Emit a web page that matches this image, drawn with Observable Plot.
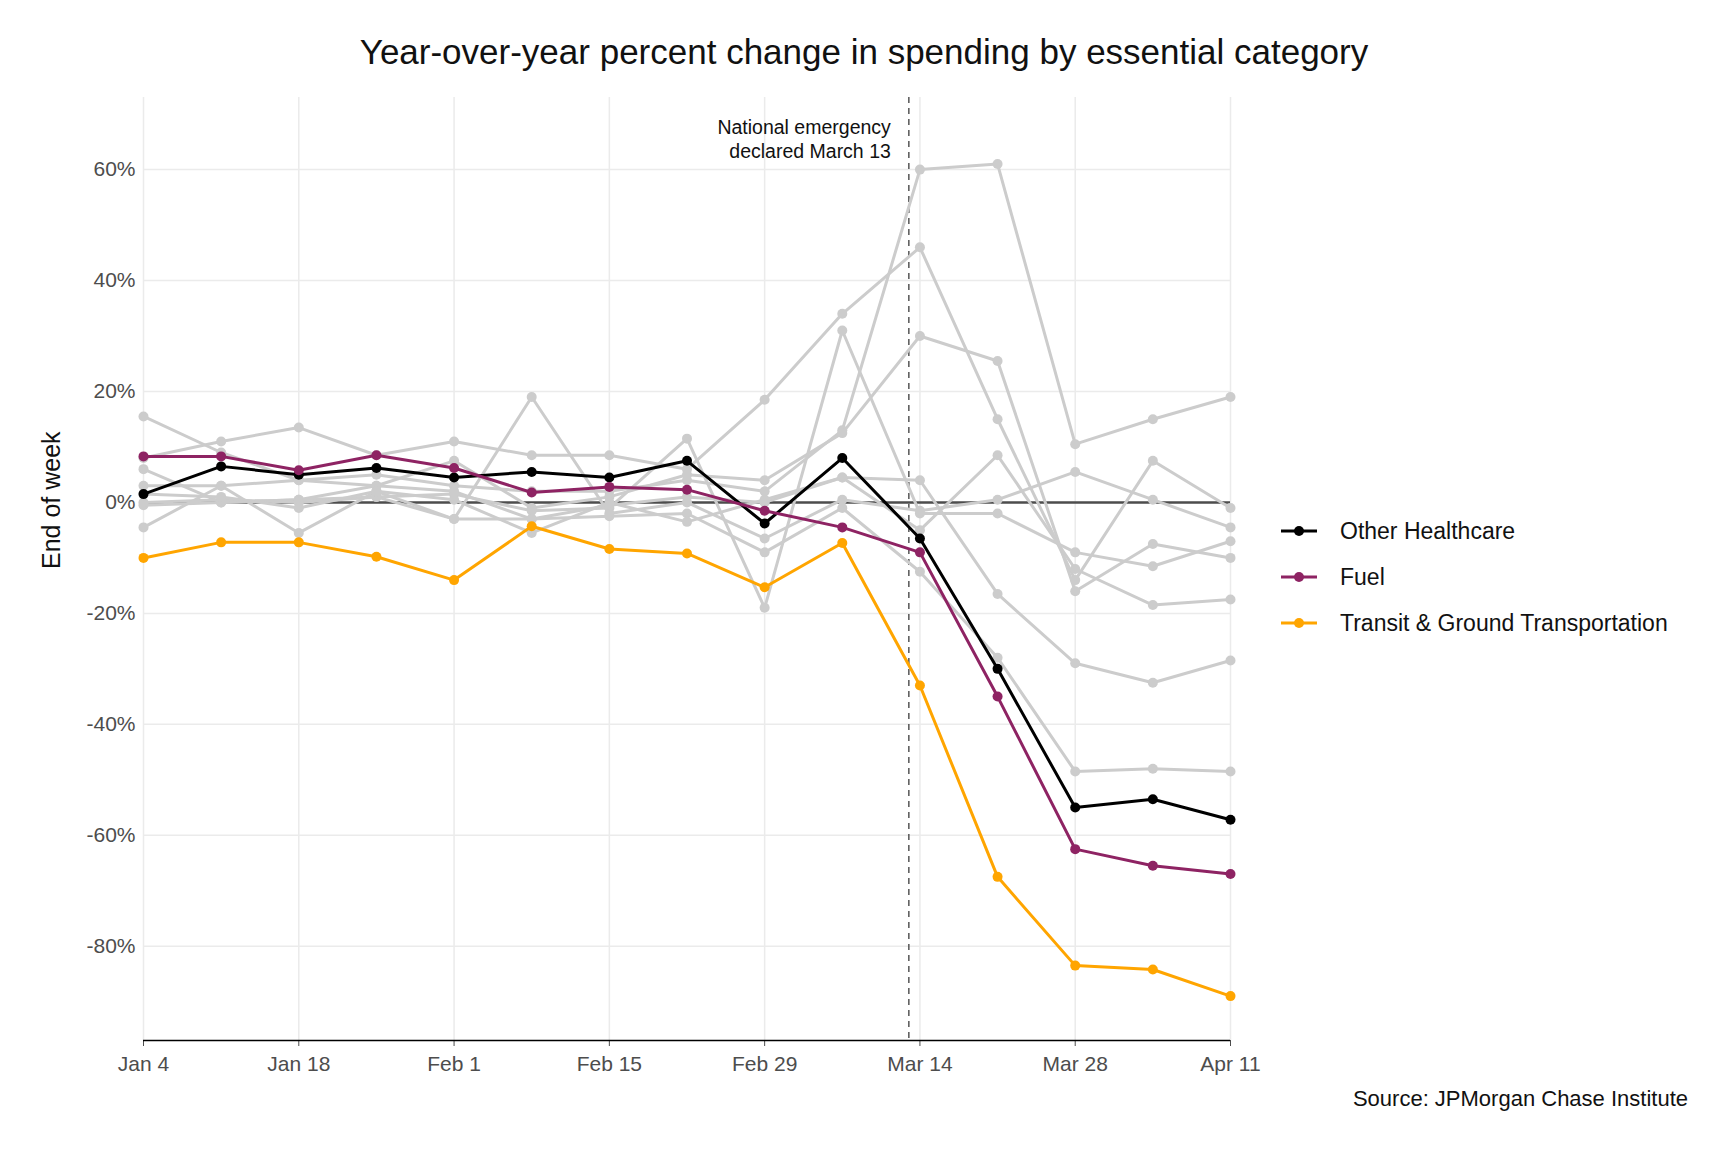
<!DOCTYPE html>
<html>
<head>
<meta charset="utf-8">
<script src="https://cdn.jsdelivr.net/npm/d3@7"></script>
<script src="https://cdn.jsdelivr.net/npm/@observablehq/plot@0.6"></script>
<style>
  body { margin: 0; background: #fff; font-family: "Liberation Sans", Arial, sans-serif; }
  #wrap { position: relative; width: 1728px; height: 1152px; }
  #title { position: absolute; top: 32px; left: 0; width: 1728px; text-align: center; font-size: 35px; color: #111; }
  #chart { position: absolute; top: 80px; left: 0; }
  #legend { position: absolute; left: 1280px; top: 508px; font-size: 23px; color: #111; }
  .item { display: flex; align-items: center; height: 46px; }
  .item svg { margin-right: 22px; }
  #source { position: absolute; right: 40px; top: 1086px; font-size: 22px; color: #111; }
</style>
</head>
<body>
<div id="wrap">
  <div id="title">Year-over-year percent change in spending by essential category</div>
  <div id="chart"></div>
  <div id="legend"></div>
  <div id="source">Source: JPMorgan Chase Institute</div>
</div>
<script>
const weeks = ["2020-01-04","2020-01-11","2020-01-18","2020-01-25","2020-02-01","2020-02-08","2020-02-15",
  "2020-02-22","2020-02-29","2020-03-07","2020-03-14","2020-03-21","2020-03-28","2020-04-04","2020-04-11"];

const otherHealthcare = [1.5, 6.5, 5, 6.2, 4.5, 5.5, 4.5, 7.5, -3.8, 8, -6.5, -30, -55, -53.5, -57.2];
const fuel = [8.3, 8.3, 5.8, 8.5, 6.2, 1.8, 2.8, 2.3, -1.5, -4.5, -9, -35, -62.5, -65.5, -67];
const transit = [-10, -7.2, -7.2, -9.8, -14, -4.3, -8.4, -9.2, -15.3, -7.3, -33, -67.5, -83.5, -84.2, -89];

// other essential categories, drawn in grey
const grey1 = [3, 3, 4, 5, 3, 2, 2, 4, 2, 13, 60, 61, 10.5, 15, 19];
const grey2 = [8, 11, 13.5, 8.5, 11, 8.5, 8.5, 6, 18.5, 34, 46, 15, -14, 7.5, -1];
const grey3 = [6, 0, 0.5, 3, 7.5, -1, 1, 5, 4, 12.5, 30, 25.5, -16, -7.5, -10];
const grey4 = [-0.5, 0, 0.5, 1, 1.5, -1.5, -1, 11.5, -19, 31, -2, -2, -9, -11.5, -7];
const grey5 = [0, 0.5, 0, 1, -3, 19, -2, 0, -6.5, 0.5, -1.5, 0.5, 5.5, 0.5, -4.5];
const grey6 = [15.5, 9, 4, 3, 2, -3, -0.5, 1, 0, 4.5, 4, -16.5, -29, -32.5, -28.5];
const grey7 = [1.5, 1, -1, 2, -3, -3, -2.5, -2, -9, -1, -12.5, -28, -48.5, -48, -48.5];
const grey8 = [-4.5, 3, -5.5, 2, 0.5, -5.5, 0, -3.5, 0.5, 4.5, -5, 8.5, -12, -18.5, -17.5];

const greys = [grey1, grey2, grey3, grey4, grey5, grey6, grey7, grey8];
const highlighted = [
  {name: "Other Healthcare", values: otherHealthcare, color: "#000000"},
  {name: "Fuel", values: fuel, color: "#8e2363"},
  {name: "Transit & Ground Transportation", values: transit, color: "#ffa500"}
];

const parse = d3.utcParse("%Y-%m-%d");
const dates = weeks.map(parse);
const greyRows = greys.flatMap((vals, k) => vals.map((v, i) => ({series: k, date: dates[i], value: v})));
const mainRows = highlighted.flatMap(s => s.values.map((v, i) => ({series: s.name, date: dates[i], value: v})));
const tickDates = dates.filter((d, i) => i % 2 === 0);
const emergency = parse("2020-03-13");
const colorDomain = highlighted.map(s => s.name);
const colorRange = highlighted.map(s => s.color);

const chart = Plot.plot({
  width: 1300,
  height: 1000,
  marginLeft: 143,
  marginRight: 70,
  marginTop: 17,
  marginBottom: 40,
  style: {fontFamily: "Liberation Sans, Arial, sans-serif", fontSize: "21px", color: "#4d4d4d"},
  x: {type: "utc", domain: [dates[0], dates[dates.length - 1]]},
  y: {domain: [-97, 73]},
  color: {domain: colorDomain, range: colorRange},
  marks: [
    Plot.gridX(tickDates, {stroke: "#ebebeb", strokeOpacity: 1, strokeWidth: 1.5}),
    Plot.gridY([-80, -60, -40, -20, 0, 20, 40, 60], {stroke: "#ebebeb", strokeOpacity: 1, strokeWidth: 1.5}),
    Plot.axisY([-80, -60, -40, -20, 0, 20, 40, 60], {tickFormat: d => d + "%", tickSize: 0, tickPadding: 8,
      label: null, fontSize: 21}),
    Plot.text(["End of week"], {frameAnchor: "left", dx: -92, rotate: -90, fontSize: 25, fill: "#111"}),
    Plot.axisX(tickDates, {tickFormat: d3.utcFormat("%b %-d"), tickSize: 6, tickPadding: 10, label: null, fontSize: 21}),
    Plot.ruleY([-97], {stroke: "#000", strokeWidth: 1.5}),
    Plot.ruleY([0], {stroke: "#4d4d4d", strokeWidth: 2.5}),
    Plot.ruleX([emergency], {stroke: "#555", strokeDasharray: "6,5", strokeWidth: 1.5}),
    Plot.text(["National emergency\ndeclared March 13"], {x: emergency, y: 73, dx: -18, dy: 20, textAnchor: "end",
      lineAnchor: "top", fill: "#111", fontSize: 19.5, lineHeight: 1.2}),
    Plot.line(greyRows, {x: "date", y: "value", z: "series", stroke: "#cccccc", strokeWidth: 3}),
    Plot.dot(greyRows, {x: "date", y: "value", fill: "#cccccc", r: 5}),
    Plot.line(mainRows, {x: "date", y: "value", z: "series", stroke: "series", strokeWidth: 3}),
    Plot.dot(mainRows, {x: "date", y: "value", fill: "series", r: 5})
  ]
});
document.getElementById("chart").append(chart);

const legend = d3.select("#legend");
highlighted.forEach(s => {
  const item = legend.append("div").attr("class", "item");
  const sv = item.append("svg").attr("width", 38).attr("height", 12);
  sv.append("line").attr("x1", 1).attr("x2", 37).attr("y1", 6).attr("y2", 6).attr("stroke", s.color).attr("stroke-width", 3);
  sv.append("circle").attr("cx", 19).attr("cy", 6).attr("r", 5).attr("fill", s.color);
  item.append("span").text(s.name);
});
</script>
</body>
</html>
